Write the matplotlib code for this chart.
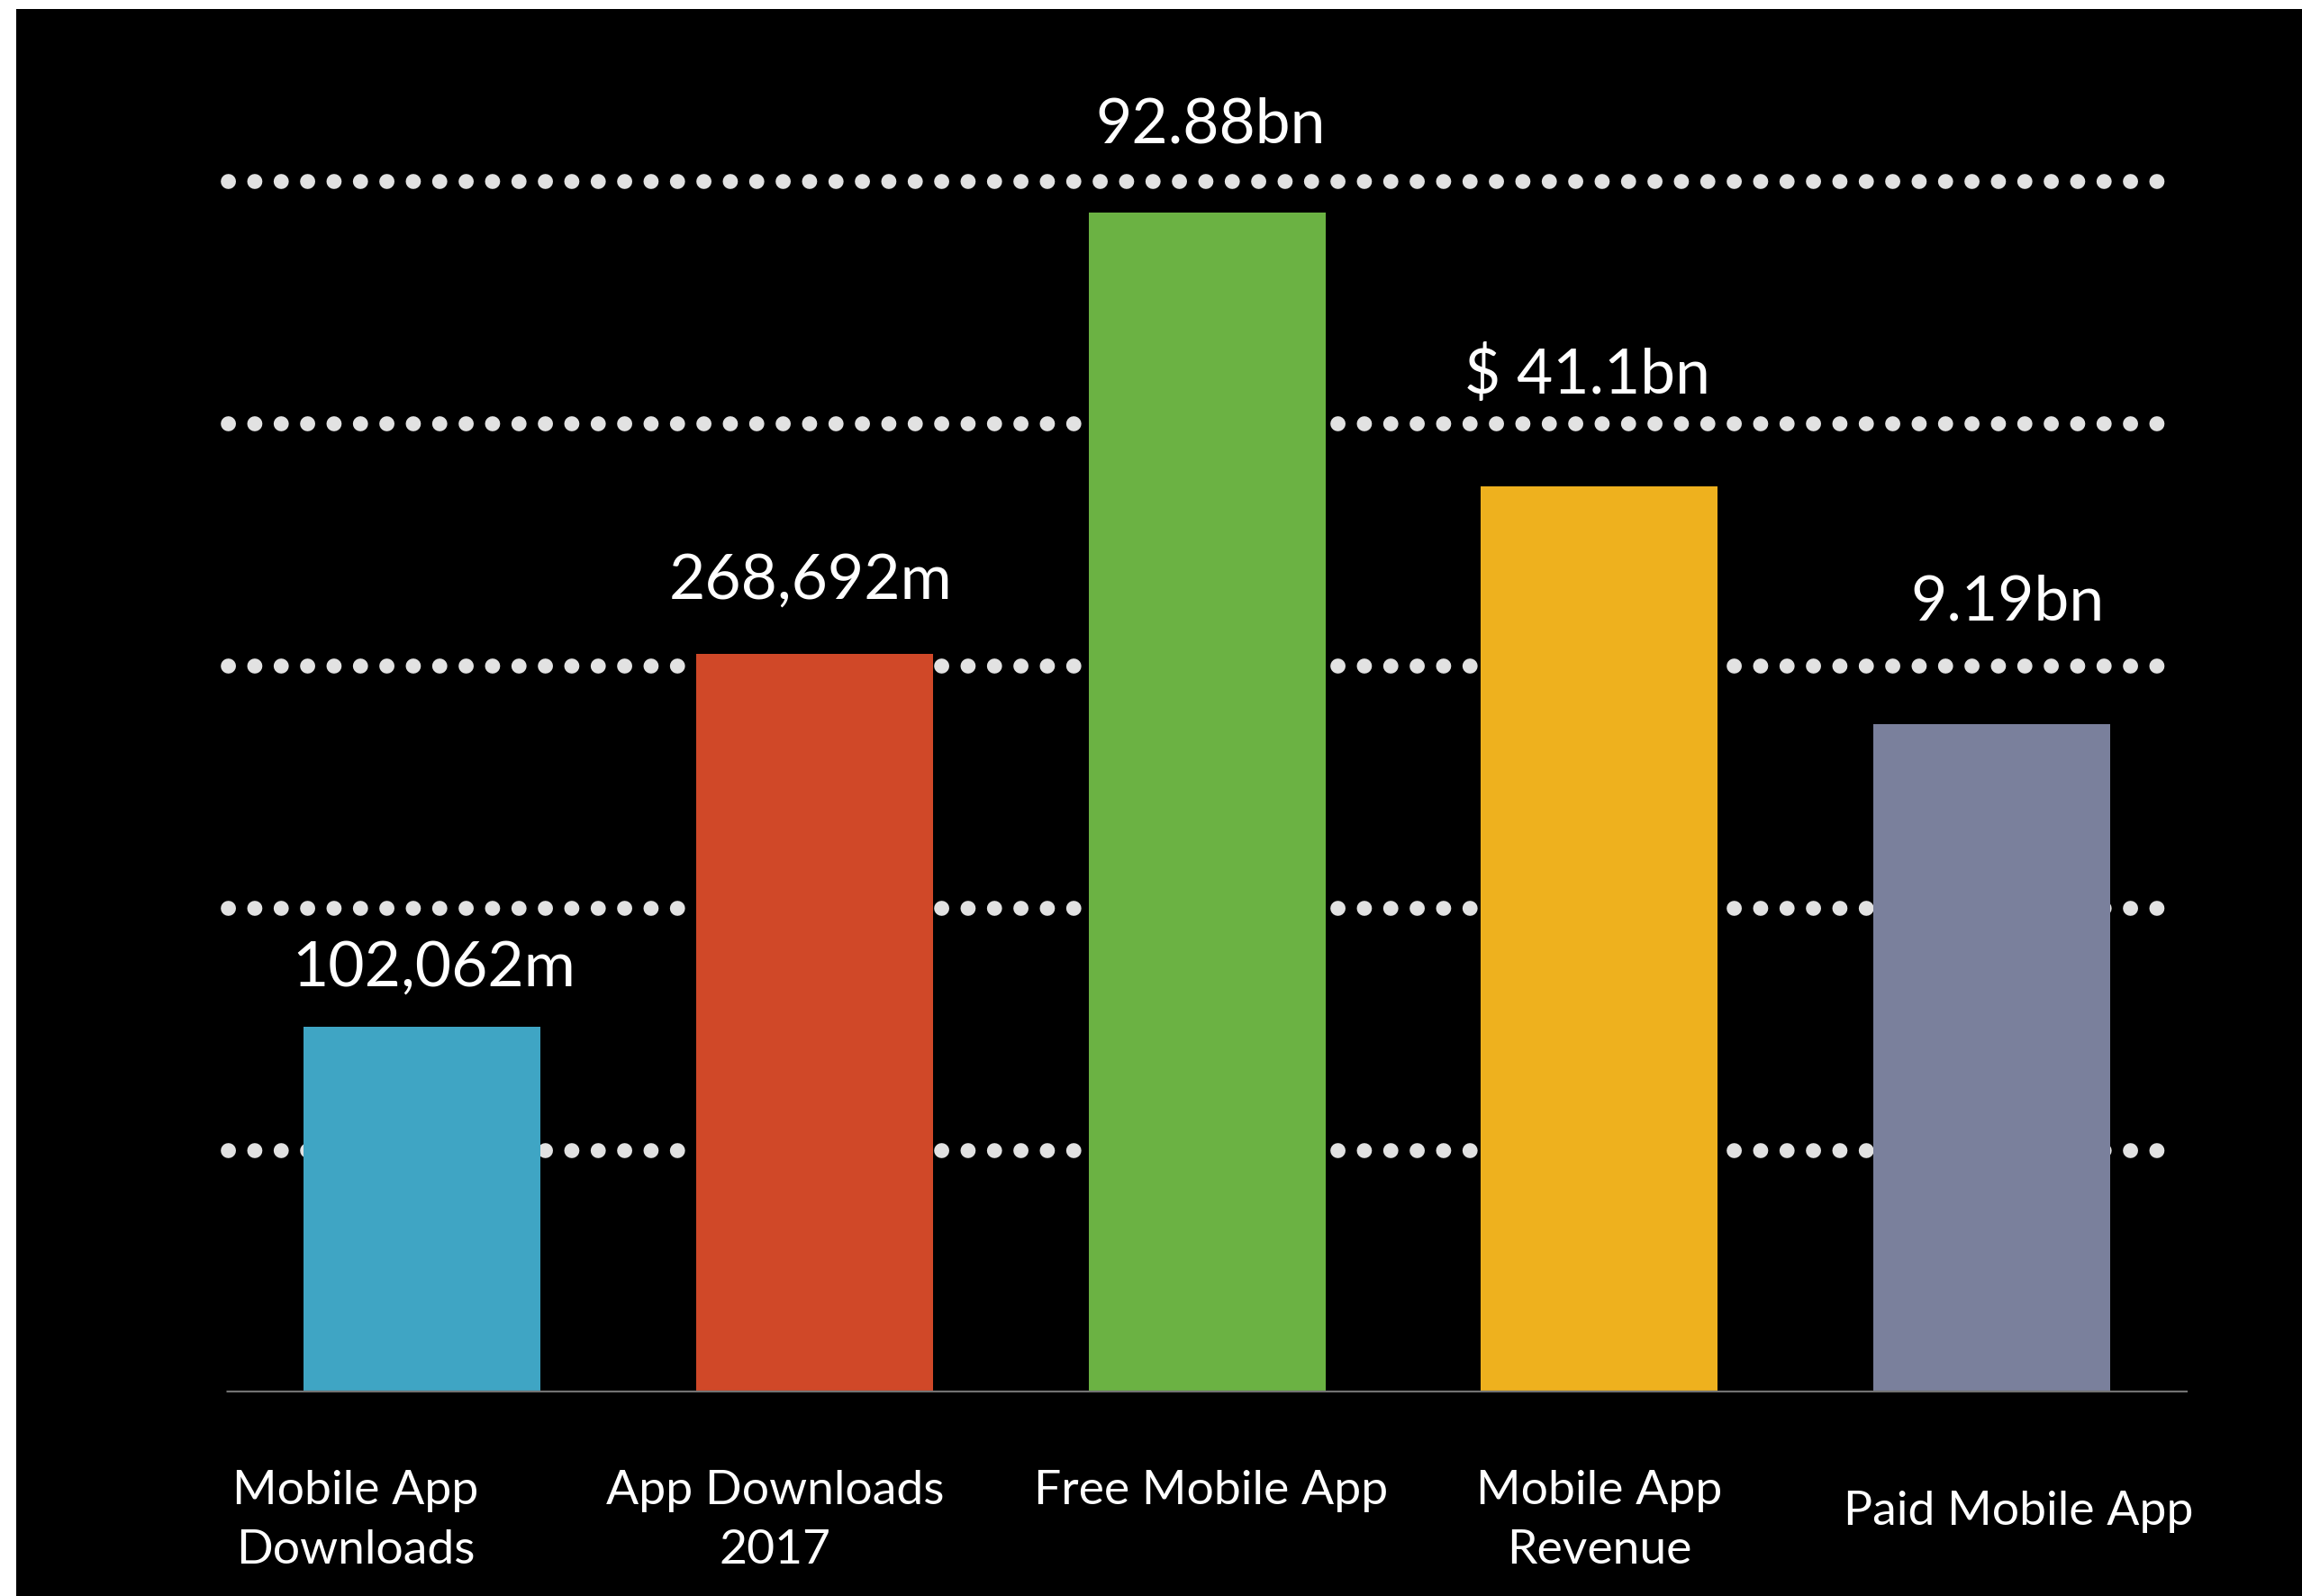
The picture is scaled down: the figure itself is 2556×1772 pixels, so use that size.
import numpy as np
import matplotlib.pyplot as plt
from matplotlib.patches import Rectangle

################################################################################
# Data
################################################################################

categories = ["Mobile App\nDownloads", "App Downloads\n2017", "Free Mobile App",
              "Mobile App\nRevenue", "Paid Mobile App"]
value_labels = ["102,062m", "268,692m", "92.88bn", "$ 41.1bn", "9.19bn"]
# bar heights measured in gridline units (chart is not to scale)
bar_heights = [1.51, 3.05, 4.87, 3.74, 2.76]
bar_colors = ["#3FA5C4", "#D04828", "#6BB243", "#EEB11E", "#7A809C"]

# text nudges (bar / gridline units)
value_dx = [0.03, -0.01, 0.01, -0.03, 0.04]
value_dy = [0.24, 0.30, 0.36, 0.46, 0.50]
cat_dx = [-0.17, -0.10, 0.01, 0.0, 0.07]
cat_y = [-0.318, -0.318, -0.318, -0.318, -0.405]

################################################################################
# Plot
################################################################################

plt.rcParams["font.family"] = ["Lato", "DejaVu Sans"]

W, H = 2556, 1772
fig = plt.figure(figsize = (W / 100, H / 100), dpi = 100, facecolor = "white")
# black slide area, leaving a thin white strip at top and left
fig.patches.append(Rectangle((18 / W, 0), 1, 1 - 10 / H, transform = fig.transFigure,
                             facecolor = "black", edgecolor = "none", zorder = -10))

ax = fig.add_axes([245 / W, (H - 1546) / H, (2429 - 245) / W, 1480 / H])
ax.set_facecolor("none")
ax.set_zorder(5)

x = np.arange(len(categories))
ax.set_xlim(-0.514, 4.5)
ax.set_ylim(0, 1480 / 269)

# dotted gridlines
for g in range(1, 6):
    ax.plot([-0.496, 4.456], [g, g], color = "#E2E2E2", linewidth = 12,
            linestyle = (0, (0.01, 1.75)), dash_capstyle = "round", zorder = 1)

ax.bar(x, bar_heights, width = 0.604, color = bar_colors, zorder = 2)

# baseline
ax.plot([-0.50, 4.5], [0, 0], color = "#727272", linewidth = 3.8, zorder = 3,
        solid_capstyle = "butt")

for i in range(len(categories)):
    ax.text(x[i] + value_dx[i], bar_heights[i] + value_dy[i], value_labels[i], ha = "center",
            va = "center", color = "white", fontsize = 50)
    ax.text(x[i] + cat_dx[i], cat_y[i], categories[i], ha = "center", va = "top",
            color = "white", fontsize = 38.5, linespacing = 1.5)

for s in ax.spines.values():
    s.set_visible(False)
ax.set_xticks([])
ax.set_yticks([])

fig.savefig("out.png", dpi = 100, facecolor = fig.get_facecolor())
